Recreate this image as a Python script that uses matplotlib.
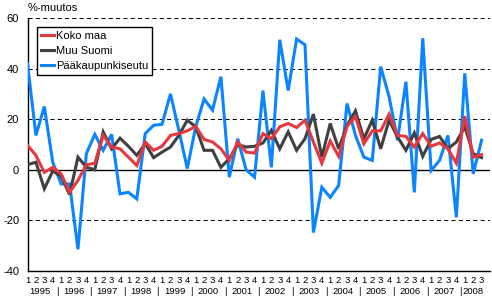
import matplotlib
matplotlib.use("Agg")
import matplotlib.pyplot as plt
import numpy as np

plt.rcParams['font.family'] = ['Liberation Sans', 'DejaVu Sans']

years = ['1995', '1996', '1997', '1998', '1999', '2000', '2001',
         '2002', '2003', '2004', '2005', '2006', '2007', '2008']
quarters = ['1', '2', '3', '4']

koko_maa = [9.7, 5.7, -1, 1, -1.6, -8.9, -4.2, 2, 2.6, 13.6, 9, 8.3, 5, 1.7,
            11, 7.7, 9.3, 13.6, 14.3, 15.4, 17.2, 12, 11, 8.3, 3.7, 11, 7,
            6.6, 14.3, 12.3, 17, 18.3, 16.7, 19.6, 11, 2.6, 11.4, 5.3, 17.2,
            21, 10.3, 15.4, 15.4, 22, 13.6, 13.2, 9, 14.3, 9.3, 10.6, 8.3,
            2.6, 21.2, 5, 6]
muu_suomi = [2, 3, -7.5, -0.5, -2.5, -9.8, 5, 1, 0, 15, 8.3, 12.5, 9.3, 5.7,
             10.3, 4.8, 7, 9, 13.6, 19.6, 17, 7.7, 7.7, 1, 4.4, 10, 9, 9.3,
             10.6, 15.6, 8.3, 15, 7.7, 12.3, 22, 5, 18.3, 8.3, 17.6, 23.3,
             12.3, 19.6, 8.3, 19.6, 13, 7.7, 14.6, 5.3, 12, 13.2, 8.3, 11,
             17, 6.4, 4.8]
paakaupunkiseutu = [42, 13.6, 25, 3, -5.6, -5.6, -31.4, 6.4, 14, 7.7, 14,
                    -9.5, -8.9, -11.5, 14.3, 17.6, 18, 30, 15.6, 0.5, 17, 28,
                    23.6, 36.8, -2.9, 12.3, 0, -2.9, 31.3, 1, 51.4, 31.3,
                    51.7, 49.4, -24.8, -6.9, -10.9, -6.2, 26.2, 13.6, 5, 3.7,
                    40.8, 28.9, 11.7, 34.8, -8.9, 52, -0.3, 3.7, 13.6, -18.8,
                    38.1, -1.6, 11.7]

series_names = ['Koko maa', 'Muu Suomi', 'Pääkaupunkiseutu']
colors = ['#E8383F', '#404040', '#0A84FF']

n = len(koko_maa)
x = np.arange(n)

fig = plt.figure(figsize=(4.92, 2.99), dpi=100)
W, H = 492, 299
left_px, right_px, top_px, bot_px = 27.5, 490, 18, 271
ax = fig.add_axes([left_px / W, 1 - bot_px / H, (right_px - left_px) / W,
                   (bot_px - top_px) / H])

lb, = ax.plot(x, paakaupunkiseutu, color=colors[2], lw=2.2, zorder=3,
              solid_joinstyle='miter')
lk, = ax.plot(x, muu_suomi, color=colors[1], lw=2.2, zorder=4,
              solid_joinstyle='miter')
lr, = ax.plot(x, koko_maa, color=colors[0], lw=2.2, zorder=5,
              solid_joinstyle='miter')

ax.set_xlim(0, 55)
ax.set_ylim(-40, 60)

for v in [60, 40, 20, -20]:
    ax.axhline(v, color='black', lw=0.75, linestyle=(0, (4, 3)), zorder=1)
ax.axhline(0, color='black', lw=1.0, zorder=2)

for s in ['top', 'right']:
    ax.spines[s].set_visible(False)
ax.spines['left'].set_linewidth(1.0)
ax.spines['bottom'].set_linewidth(1.0)

ax.set_yticks([-40, -20, 0, 20, 40, 60])
ax.set_yticklabels(['-40', '-20', '0', '20', '40', '60'])
ax.tick_params(axis='y', length=0, pad=6, labelsize=8)
ax.set_xticks([])

ax.text(0, 1.02, '%-muutos', transform=ax.transAxes, fontsize=8,
        ha='left', va='bottom')

tr = ax.get_xaxis_transform()
for i in range(n):
    ax.text(x[i], -0.036, quarters[i % 4], transform=tr, fontsize=6.8,
            ha='center', va='center')
for k, yr in enumerate(years):
    qs = [i for i in range(n) if i // 4 == k]
    ax.text(np.mean(qs), -0.083, yr, transform=tr, fontsize=6.8,
            ha='center', va='center')
    if k < len(years) - 1:
        ax.text(qs[-1] + 0.5, -0.083, '|', transform=tr, fontsize=6.8,
                ha='center', va='center')

leg = ax.legend([lr, lk, lb], series_names, loc='upper left',
                bbox_to_anchor=(0.02, 0.965), borderaxespad=0, fontsize=8,
                frameon=True, fancybox=False, edgecolor='black',
                framealpha=1, handlelength=1.2, handletextpad=0.15,
                labelspacing=0.45, borderpad=0.35)
leg.get_frame().set_linewidth(1.0)

fig.savefig('out.png', dpi=100)
